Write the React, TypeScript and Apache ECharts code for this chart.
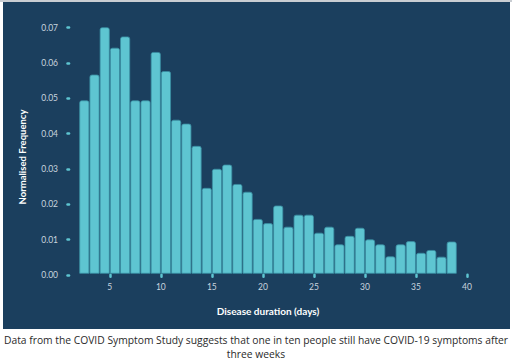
import React, { useEffect, useRef } from "react";
import * as echarts from "echarts";

const binStarts = [2, 3, 4, 5, 6, 7, 8, 9, 10, 11, 12, 13, 14, 15, 16, 17, 18, 19, 20, 21, 22, 23, 24, 25, 26, 27, 28, 29, 30, 31, 32, 33, 34, 35, 36, 37, 38];
const frequency = [
  0.0493, 0.0566, 0.070, 0.0642, 0.0674, 0.0493, 0.0493, 0.0630, 0.0576, 0.0438,
  0.0427, 0.0364, 0.0245, 0.0299, 0.0311, 0.0256, 0.0234, 0.0157, 0.0145, 0.0195,
  0.0135, 0.0169, 0.0169, 0.0118, 0.0135, 0.0085, 0.0109, 0.0132, 0.0099, 0.0085,
  0.0051, 0.0085, 0.0094, 0.0061, 0.0069, 0.0050, 0.0093,
];
const xTicks = [5, 10, 15, 20, 25, 30, 35, 40];
const xTitle = "Disease duration (days)";
const yTitle = "Normalised Frequency";
const captionLines = [
  "Data from the COVID Symptom Study suggests that one in ten people still have COVID-19 symptoms after",
  "three weeks",
];

const FONT = "Lato, 'DejaVu Sans', sans-serif";
const CAPTION_FONT = "'Open Sans', 'DejaVu Sans', sans-serif";

export default function App() {
  const ref = useRef<HTMLDivElement>(null);
  useEffect(() => {
    if (!ref.current) return;
    const chart = echarts.init(ref.current, null, { renderer: "svg" });
    const data = binStarts.map((d, i) => [d, frequency[i]]);
    chart.setOption({
      animation: false,
      backgroundColor: "#ffffff",
      textStyle: { fontFamily: FONT },
      graphic: [
        { type: "rect", z: -10, shape: { x: 0, y: 0, width: 512, height: 2 }, style: { fill: "#c9cdd2" } },
        { type: "rect", z: -10, shape: { x: 3, y: 2, width: 507, height: 327 }, style: { fill: "#1b3f5e" } },
        {
          type: "text",
          x: 22,
          y: 157,
          rotation: Math.PI / 2,
          style: {
            text: yTitle,
            fill: "#ffffff",
            font: `bold 9.5px ${FONT}`,
            align: "center",
            verticalAlign: "middle",
          },
        },
        {
          type: "text",
          x: 256,
          y: 340,
          style: { text: captionLines[0], fill: "#2a2a2a", font: `10.3px ${CAPTION_FONT}`, align: "center", verticalAlign: "middle" },
        },
        {
          type: "text",
          x: 256,
          y: 354,
          style: { text: captionLines[1], fill: "#2a2a2a", font: `10.3px ${CAPTION_FONT}`, align: "center", verticalAlign: "middle" },
        },
      ],
      grid: { left: 69, right: 45, top: 27.7, bottom: 88.2, containLabel: false },
      xAxis: {
        type: "value",
        min: 1,
        max: 40,
        splitLine: { show: false },
        axisLine: { show: false },
        axisTick: {
          show: true,
          customValues: xTicks,
          length: 2,
          lineStyle: { color: "#5ec5d1", width: 2.5, cap: "round" },
        },
        axisLabel: {
          customValues: xTicks,
          color: "#c9d4de",
          fontSize: 8.5,
          margin: 8,
          fontFamily: FONT,
        },
        name: xTitle,
        nameLocation: "middle",
        nameGap: 31,
        nameTextStyle: { color: "#ffffff", fontSize: 10, fontWeight: "bold", fontFamily: FONT },
      },
      yAxis: {
        type: "value",
        min: 0,
        max: 0.07,
        interval: 0.01,
        splitLine: { show: false },
        axisLine: { show: false },
        axisTick: { show: true, length: 1.5, lineStyle: { color: "#5ec5d1", width: 2.5, cap: "round" } },
        axisLabel: {
          color: "#c9d4de",
          fontSize: 8.5,
          margin: 11,
          fontFamily: FONT,
          formatter: (v: number) => v.toFixed(2),
        },
      },
      series: [
        {
          type: "custom",
          data,
          encode: { x: 0, y: 1 },
          renderItem: (params: any, api: any) => {
            const d = api.value(0);
            const v = api.value(1);
            const p0 = api.coord([d, v]);
            const p1 = api.coord([d + 1, 0]);
            return {
              type: "rect",
              shape: {
                x: p0[0] + 0.5,
                y: p0[1],
                width: p1[0] - p0[0] - 1,
                height: p1[1] - p0[1] - 1.5,
                r: [2, 2, 0, 0],
              },
              style: { fill: "#5ec5d1", stroke: "#3a8ea2", lineWidth: 0.8 },
            };
          },
        },
      ],
    });
    return () => chart.dispose();
  }, []);
  return (
    <div
      ref={ref}
      style={{ position: "absolute", left: 0, top: 0, width: 512, height: 363 }}
    />
  );
}
